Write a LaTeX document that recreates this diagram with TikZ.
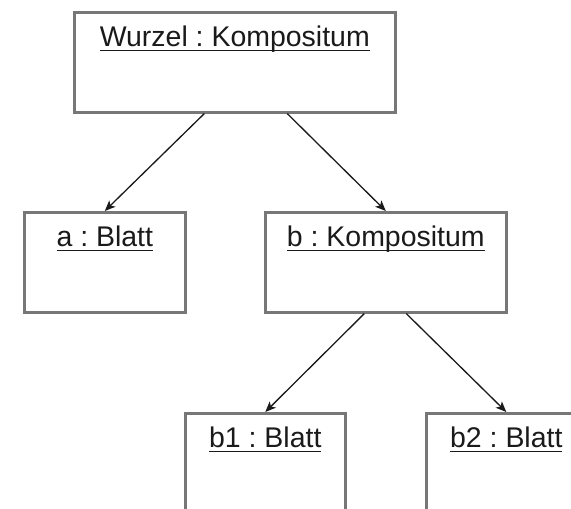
\documentclass[tikz,border=0pt]{standalone}
\usepackage{fontspec}
\setmainfont{Liberation Sans}
\usetikzlibrary{arrows.meta}
\frenchspacing

\definecolor{boxgray}{HTML}{777777}
\definecolor{ink}{HTML}{1A1A1A}

% object name with the underline drawn straight through the descenders
\newcommand{\objname}[1]{\setbox0=\hbox{#1}\rlap{\rule[-2.8pt]{\wd0}{0.8pt}}\box0}

\tikzset{
  objbox/.style={draw=boxgray, line width=1.5pt, rectangle, anchor=north west,
    inner xsep=0pt, inner ysep=0.2cm, text height=0.48cm, text depth=1.12cm,
    text=ink, font=\fontsize{16.2pt}{19pt}\selectfont},
  link/.style={draw=ink, line width=0.75pt, -{Stealth[length=6pt, width=5pt, inset=1.5pt]}}
}

\begin{document}
\begin{tikzpicture}[x=0.02cm, y=-0.02cm]
   \clip (0,0) rectangle (571,509);
   \node [objbox, minimum width=6.42cm] (wurzel) at (73,11) {\objname{Wurzel : Kompositum}};
   \node [objbox, minimum width=3.22cm] (a) at (23,211) {\objname{a : Blatt}};
   \node [objbox, minimum width=4.82cm] (b) at (264,211) {\objname{b : Kompositum}};
   \node [objbox, minimum width=3.2cm] (b1) at (184,412) {\objname{b1 : Blatt}};
   \node [objbox, minimum width=3.2cm] (b2) at (425,412) {\objname{b2 : Blatt}};
	\draw [link] ([xshift=-0.61cm]wurzel.south) -- (a.north);
	\draw [link] ([xshift=1.05cm]wurzel.south) -- (b.north);
	\draw [link] ([xshift=-0.43cm]b.south) -- (b1.north);
	\draw [link] ([xshift=0.41cm]b.south) -- (b2.north);
\end{tikzpicture}
\end{document}
